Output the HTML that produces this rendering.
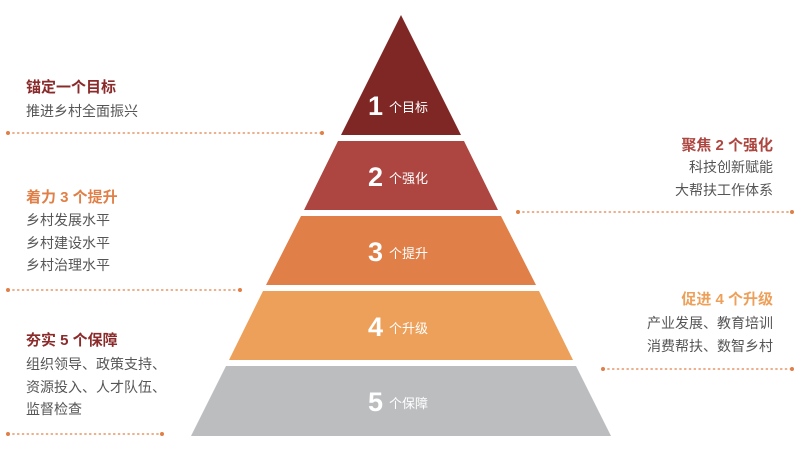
<!DOCTYPE html>
<html><head><meta charset="utf-8"><style>
body{margin:0;width:800px;height:453px;background:#fff;overflow:hidden;font-family:"Liberation Sans","Noto Sans CJK SC",sans-serif}
.t{position:absolute;font-size:15px;font-weight:bold;white-space:nowrap;line-height:20px}
.s{position:absolute;font-size:14px;color:#555;white-space:nowrap;line-height:22.5px}
.r{text-align:right}
</style></head><body>
<svg width="800" height="453" style="position:absolute;left:0;top:0">
<polygon points="401,15 461,135 341,135" fill="#7f2725"/>
<polygon points="338,141 464,141 498,210 304,210" fill="#ad4640"/>
<polygon points="301,216 501,216 536,285 266,285" fill="#e07f47"/>
<polygon points="263,291 539,291 573,360 229,360" fill="#eda05a"/>
<polygon points="226,366 576,366 611,436 191,436" fill="#bbbdbf"/>
<g fill="#fff" font-family="Liberation Sans,Noto Sans CJK SC,sans-serif">
<text x="368" y="115" font-size="27" font-weight="bold">1</text><text x="389" y="112" font-size="13">个目标</text>
<text x="368" y="186" font-size="27" font-weight="bold">2</text><text x="389" y="183" font-size="13">个强化</text>
<text x="368" y="261" font-size="27" font-weight="bold">3</text><text x="389" y="258" font-size="13">个提升</text>
<text x="368" y="336" font-size="27" font-weight="bold">4</text><text x="389" y="333" font-size="13">个升级</text>
<text x="368" y="411" font-size="27" font-weight="bold">5</text><text x="389" y="408" font-size="13">个保障</text>
</g>
<g stroke="#e07f47" stroke-width="1.3" stroke-dasharray="1.3 3.5" stroke-linecap="round">
<line x1="8" y1="133" x2="322" y2="133"/><line x1="8" y1="290" x2="240" y2="290"/><line x1="8" y1="434" x2="162" y2="434"/>
<line x1="518" y1="212" x2="792" y2="212"/><line x1="603" y1="369" x2="792" y2="369"/>
</g>
<g fill="#e07f47">
<circle cx="8" cy="133" r="2"/><circle cx="322" cy="133" r="2"/><circle cx="8" cy="290" r="2"/><circle cx="240" cy="290" r="2"/>
<circle cx="8" cy="434" r="2"/><circle cx="162" cy="434" r="2"/><circle cx="518" cy="212" r="2"/><circle cx="792" cy="212" r="2"/>
<circle cx="603" cy="369" r="2"/><circle cx="792" cy="369" r="2"/>
</g>
</svg>
<div class="t" style="left:26px;top:78px;color:#8b2a2a">锚定一个目标</div>
<div class="s" style="left:26px;top:100px">推进乡村全面振兴</div>
<div class="t" style="left:26px;top:188px;color:#e07f47">着力 3 个提升</div>
<div class="s" style="left:26px;top:209px">乡村发展水平<br>乡村建设水平<br>乡村治理水平</div>
<div class="t" style="left:26px;top:331px;color:#8b2a2a">夯实 5 个保障</div>
<div class="s" style="left:26px;top:353px">组织领导、政策支持、<br>资源投入、人才队伍、<br>监督检查</div>
<div class="t r" style="right:27px;top:136px;color:#ad4640">聚焦 2 个强化</div>
<div class="s r" style="right:27px;top:156px">科技创新赋能<br>大帮扶工作体系</div>
<div class="t r" style="right:27px;top:290px;color:#eda05a">促进 4 个升级</div>
<div class="s r" style="right:27px;top:312px">产业发展、教育培训<br>消费帮扶、数智乡村</div>
</body></html>
